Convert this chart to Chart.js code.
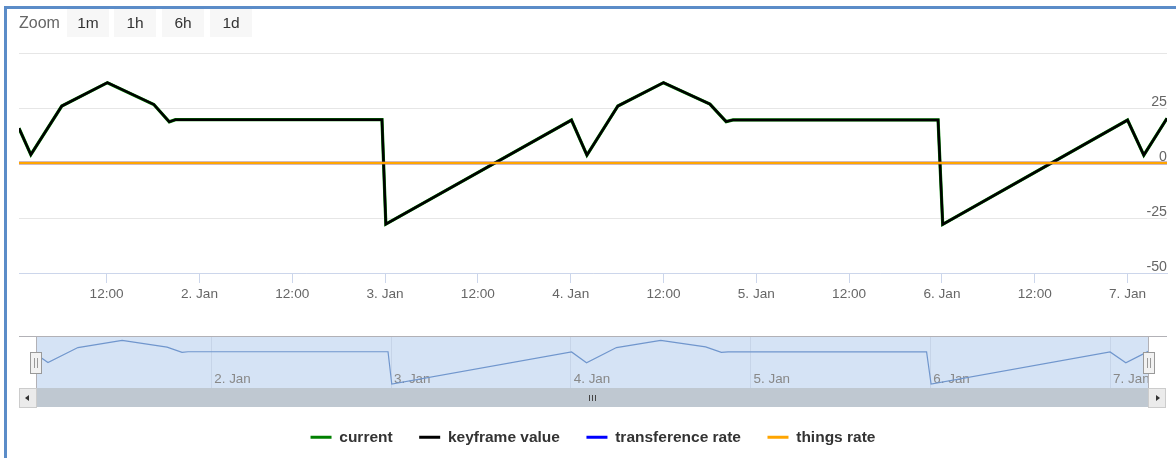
<!DOCTYPE html>
<html><head><meta charset="utf-8">
<script src="https://cdn.jsdelivr.net/npm/chart.js@4.4.1/dist/chart.umd.min.js"></script>
<style>
html,body{margin:0;padding:0;background:#fff;}
#wrap{position:relative;width:1176px;height:458px;overflow:hidden;font-family:"Liberation Sans",Arial,sans-serif;}
#frameL{position:absolute;left:4px;top:6px;width:3px;height:460px;background:#5b8cc8;}
#frameT{position:absolute;left:4px;top:6px;width:1180px;height:3px;background:#5b8cc8;}
#main{position:absolute;left:0;top:0;}
#nav{position:absolute;left:0;top:337px;}
.zl{position:absolute;left:19px;top:9px;height:28px;line-height:28px;font-size:16px;color:#666;}
.btn{position:absolute;top:9px;height:28px;width:42px;background:#f7f7f7;color:#333;font-size:15.5px;text-align:center;line-height:28px;}
.ln{position:absolute;background:#b2b1b6;}
#bar{position:absolute;left:36px;top:388px;width:1112px;height:19px;background:#bfc8d1;}
.sb{position:absolute;top:388px;width:16px;height:18px;background:#ebebeb;border:1px solid #cccccc;}
.grip{position:absolute;top:395px;width:1px;height:6px;background:#444;}
.handle{position:absolute;top:352px;width:10px;height:20px;background:#f2f2f2;border:1px solid #999;}
.hl{position:absolute;top:5px;width:1px;height:10px;background:#999;}
</style></head>
<body>
<div id="wrap">
  <canvas id="main" width="1176" height="458"></canvas>
  <canvas id="nav" width="1176" height="51"></canvas>
  <div class="ln" style="left:19px;top:336px;width:1148px;height:1px;"></div>
  <div class="ln" style="left:36px;top:336px;width:1px;height:52px;"></div>
  <div class="ln" style="left:1148px;top:336px;width:1px;height:52px;"></div>
  <div id="bar"></div>
  <div class="sb" style="left:19px;"><div style="position:absolute;left:5px;top:6px;width:0;height:0;border-top:3px solid transparent;border-bottom:3px solid transparent;border-right:4px solid #333;"></div></div>
  <div class="sb" style="left:1148px;"><div style="position:absolute;left:7px;top:6px;width:0;height:0;border-top:3px solid transparent;border-bottom:3px solid transparent;border-left:4px solid #333;"></div></div>
  <div class="grip" style="left:589px;"></div><div class="grip" style="left:592px;"></div><div class="grip" style="left:595px;"></div>
  <div class="handle" style="left:30px;"><div class="hl" style="left:3px;"></div><div class="hl" style="left:6px;"></div></div>
  <div class="handle" style="left:1143px;"><div class="hl" style="left:3px;"></div><div class="hl" style="left:6px;"></div></div>
  <div id="frameL"></div><div id="frameT"></div>
  <div class="zl">Zoom</div>
  <div class="btn" style="left:67px;">1m</div>
  <div class="btn" style="left:114px;">1h</div>
  <div class="btn" style="left:162px;">6h</div>
  <div class="btn" style="left:210px;">1d</div>
</div>
<script>
// time in hours since 1 Jan 00:00
const hours = [0.67, 2.2, 6.2, 12.1, 18.1, 20.1, 20.9, 47.6, 48.1, 72.1, 74.1, 78.1, 84.0, 90.0, 92.1, 93.0, 119.5, 120.1, 144.0, 146.1, 149.1];
const current = [15.8, 3.8, 25.9, 36.5, 26.6, 18.7, 19.7, 19.7, -27.8, 19.5, 3.6, 25.9, 36.5, 26.8, 18.8, 19.6, 19.6, -27.9, 19.5, 3.6, 20.3];
const keyframeValue = [15.8, 3.8, 25.9, 36.5, 26.6, 18.7, 19.7, 19.7, -27.8, 19.5, 3.6, 25.9, 36.5, 26.8, 18.8, 19.6, 19.6, -27.9, 19.5, 3.6, 20.3];
const transferenceRate = [0, 0, 0, 0, 0, 0, 0, 0, 0, 0, 0, 0, 0, 0, 0, 0, 0, 0, 0, 0, 0];
const thingsRate = [0, 0, 0, 0, 0, 0, 0, 0, 0, 0, 0, 0, 0, 0, 0, 0, 0, 0, 0, 0, 0];
const xTickHours = [12, 24, 36, 48, 60, 72, 84, 96, 108, 120, 132, 144];
const xTickLabels = ['12:00', '2. Jan', '12:00', '3. Jan', '12:00', '4. Jan', '12:00', '5. Jan', '12:00', '6. Jan', '12:00', '7. Jan'];
const yTicks = [-50, -25, 0, 25, 50];
const yTickLabels = ['-50', '-25', '0', '25', ''];
const navTickHours = [24, 48, 72, 96, 120, 144];
const navTickLabels = ['2. Jan', '3. Jan', '4. Jan', '5. Jan', '6. Jan', '7. Jan'];

const FAM = '"Liberation Sans", Arial, sans-serif';
const pts = vals => hours.map((h, i) => ({x: h, y: vals[i]}));
const mk = (label, vals, color, width, order) => ({
  label, data: pts(vals), borderColor: color, backgroundColor: color,
  borderWidth: width, pointRadius: 0, tension: 0, fill: false, order
});

new Chart(document.getElementById('main'), {
  type: 'line',
  data: { datasets: [
    mk('current', current, '#008000', 3.2, 4),
    mk('keyframe value', keyframeValue, '#000000', 2.5, 3),
    mk('transference rate', transferenceRate, '#0000ff', 2.5, 2),
    mk('things rate', thingsRate, '#ffa500', 2.6, 1)
  ]},
  options: {
    responsive: false, animation: false, devicePixelRatio: 1, events: [],
    layout: { padding: { top: 53, left: 19, right: 9, bottom: 3 } },
    plugins: {
      tooltip: { enabled: false },
      legend: {
        position: 'bottom',
        labels: {
          boxWidth: 21, boxHeight: 3, padding: 26.5, color: '#333333',
          font: { family: FAM, size: 15.5, weight: 'bold' },
          generateLabels(chart) {
            const items = Chart.defaults.plugins.legend.labels.generateLabels(chart);
            items.forEach(it => { it.lineWidth = 0; });
            return items.sort((a, b) => a.datasetIndex - b.datasetIndex);
          }
        }
      }
    },
    scales: {
      x: {
        type: 'linear', min: hours[0], max: hours[hours.length - 1],
        afterBuildTicks: s => { s.ticks = xTickHours.map(v => ({value: v})); },
        afterFit: s => { s.height = 130; },
        grid: { drawOnChartArea: false, drawTicks: true, tickLength: 10, color: '#ccd6eb' },
        border: { display: true, color: '#ccd6eb' },
        ticks: { autoSkip: false, maxRotation: 0, padding: 3, color: '#666666',
          font: { family: FAM, size: 13.6 }, callback: (v, i) => xTickLabels[i] }
      },
      y: {
        position: 'right', min: -50, max: 50,
        afterBuildTicks: s => { s.ticks = yTicks.map(v => ({value: v})); },
        grid: { color: '#e6e6e6', drawTicks: false },
        border: { display: false },
        ticks: { mirror: true, padding: 0, labelOffset: -5.8, color: '#666666',
          font: { family: FAM, size: 14.2 }, callback: (v, i) => yTickLabels[i] }
      }
    }
  }
});

const maskPlugin = {
  id: 'mask',
  beforeDraw(c) {
    const a = c.chartArea, ctx = c.ctx;
    ctx.save(); ctx.fillStyle = '#d5e3f5';
    ctx.fillRect(a.left, a.top, a.right - a.left, a.bottom - a.top);
    ctx.restore();
  }
};

new Chart(document.getElementById('nav'), {
  type: 'line',
  data: { datasets: [ mk('keyframe value', keyframeValue, '#7096cd', 1.2, 1) ] },
  plugins: [maskPlugin],
  options: {
    responsive: false, animation: false, devicePixelRatio: 1, events: [],
    layout: { padding: { top: 0, left: 36.5, right: 27.7, bottom: 0 } },
    plugins: { legend: { display: false }, tooltip: { enabled: false } },
    scales: {
      x: {
        type: 'linear', min: hours[0], max: hours[hours.length - 1],
        afterBuildTicks: s => { s.ticks = navTickHours.map(v => ({value: v})); },
        afterFit: s => { s.height = 0; },
        grid: { drawOnChartArea: true, drawTicks: false, color: '#c6d4e8' },
        border: { display: false },
        ticks: { mirror: true, align: 'start', labelOffset: 3, padding: 1, autoSkip: false, maxRotation: 0,
          color: '#888888', font: { family: FAM, size: 13.4 }, callback: (v, i) => navTickLabels[i] }
      },
      y: { display: false, min: -33.6, max: 41.4 }
    }
  }
});
</script>
</body></html>
